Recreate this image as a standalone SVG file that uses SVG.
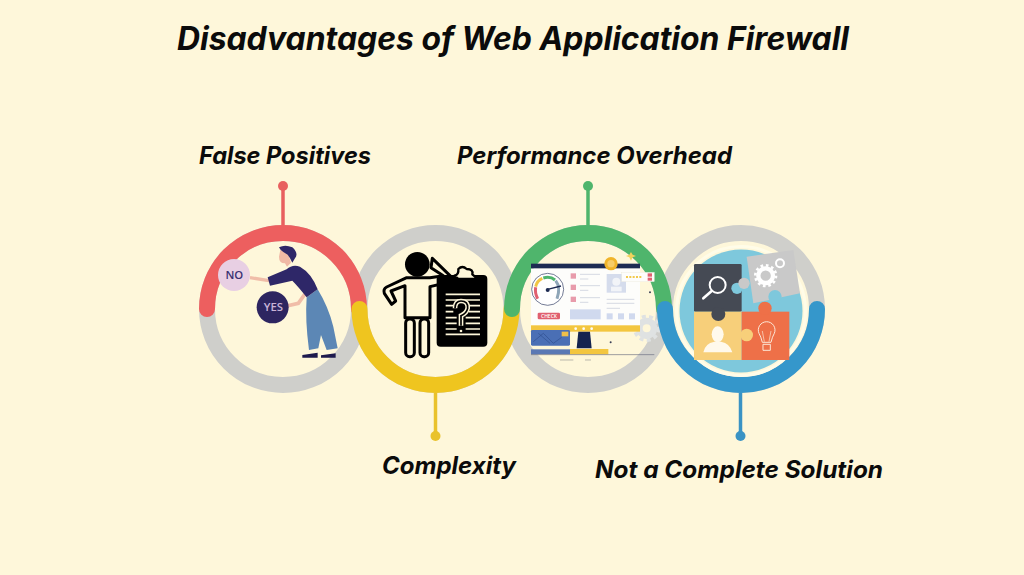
<svg xmlns="http://www.w3.org/2000/svg" width="1024" height="575" viewBox="0 0 1024 575">
<style>
.t{font-family:"Inter","Liberation Sans",sans-serif;font-weight:700;font-style:italic;fill:#0b0b0b}
.l{font-size:24px}
.s{font-family:"Open Sans","Liberation Sans",sans-serif;font-weight:600;text-anchor:middle}
.r{fill:none;stroke-width:16;stroke-linecap:round}
.g{fill:none;stroke:#cfcfcb;stroke-width:16}
.o{fill:#fef7da;stroke:#000;stroke-width:9;stroke-linejoin:round}
.cl{stroke:#fef7da;stroke-width:5;fill:none}
.gl{stroke:#d5d9e2;stroke-width:3;fill:none}
</style>
<rect width="1024" height="575" fill="#fef7da"/>
<text class="t" x="177" y="50" font-size="32" textLength="672" lengthAdjust="spacingAndGlyphs">Disadvantages of Web Application Firewall</text>
<g id="connectors">
<g stroke-width="3.500"><path d="M283 187V226" stroke="#e8605f"/><path d="M435.500 392V436" stroke="#e9c22c"/><path d="M588 187V226" stroke="#4fb56c"/><path d="M740.500 392V436" stroke="#3a93c4"/></g>
<circle cx="283" cy="186" r="5" fill="#e8605f"/><circle cx="435.500" cy="436" r="5" fill="#e9c22c"/><circle cx="588" cy="186" r="5" fill="#4fb56c"/><circle cx="740.500" cy="436" r="5" fill="#3a93c4"/>
</g>
<text class="t l" x="199" y="164" textLength="172" lengthAdjust="spacingAndGlyphs">False Positives</text>
<text class="t l" x="457" y="164" textLength="275" lengthAdjust="spacingAndGlyphs">Performance Overhead</text>
<text class="t l" x="382" y="474" textLength="134" lengthAdjust="spacingAndGlyphs">Complexity</text>
<text class="t l" x="595" y="478" textLength="288" lengthAdjust="spacingAndGlyphs">Not a Complete Solution</text>
<g id="rings"><circle class="g" cx="283" cy="309" r="76"/><circle class="g" cx="435.500" cy="309" r="76"/><circle class="g" cx="588" cy="309" r="76"/><circle class="g" cx="741" cy="309" r="76"/></g>
<g id="arcs">
<path class="r" d="M207 309A76 76 0 0 1 359 309" stroke="#ed5f5f"/>
<path class="r" d="M359.500 309A76 76 0 0 0 511.500 309" stroke="#efc51f"/>
<path class="r" d="M512 309A76 76 0 0 1 664 309" stroke="#4fb56c"/>
</g>
<g id="node-false-positives" transform="translate(205 240) scale(.3333)">
<path d="M135 113L192 122" stroke="#f0bda8" stroke-width="10"/>
<path d="M245 198L280 190L305 155" fill="none" stroke="#f0bda8" stroke-width="11"/>
<circle cx="87" cy="105" r="48" fill="#e8cfe3"/>
<text class="s" x="88" y="117" font-size="34" fill="#3b3272">NO</text>
<circle cx="203" cy="202" r="48" fill="#2d2560"/>
<text class="s" x="205" y="213" font-size="34" fill="#c8b3d8">YES</text>
<path d="M226 30L250 42L258 68L246 80L240 70Q222 70 222 50Z" fill="#f0b9a5"/>
<path d="M222 22Q240 12 262 22Q282 40 270 55L262 68Q256 54 248 44L235 36Q225 30 222 22Z" fill="#2e2768"/>
<path d="M305 172L338 148Q370 200 385 260L398 325L365 330L348 285L340 325L312 330Q300 240 305 172Z" fill="#5c87b5"/>
<path d="M188 112L245 88Q262 72 285 80Q320 100 338 148L305 172Q280 140 262 122L195 137Z" fill="#2e2768"/>
<path d="M292 345L338 338V353H292ZM348 346L392 340V353H348Z" fill="#1e1a4d"/>
</g>
<g id="node-complexity" transform="translate(375 245) scale(.3333)">
<rect x="92" y="222" width="26" height="113" rx="12" class="o"/>
<rect x="135" y="222" width="26" height="113" rx="12" class="o"/>
<path class="o" d="M172 40L228 95Q232 108 222 112L165 125V218H90V122L48 138L62 168L50 178L28 145Q24 132 35 126L95 98H165L205 92L168 68Z"/>
<circle cx="127" cy="58" r="37"/>
<rect x="185" y="90" width="152" height="215" rx="12"/>
<path d="M238 92Q252 90 250 72Q262 60 275 72Q296 72 292 88L308 102H250Z" fill="#fef7da" stroke="#000" stroke-width="7" stroke-linejoin="round"/>
<path class="cl" d="M212 148H315M212 165H315M212 182H235M282 182H315M212 200H235M282 200H315M212 218H245M272 218H315M212 235H245M272 235H315M212 252H245M272 252H315M212 268H315"/>
<path d="M240 190Q240 168 258 168Q280 168 278 190Q275 205 258 212V242" fill="none" stroke="#fef7da" stroke-width="14"/>
<path d="M240 190Q240 168 258 168Q280 168 278 190Q275 205 258 212V242" fill="none" stroke="#000" stroke-width="5"/>
<circle cx="258" cy="258" r="4" fill="#fef7da"/>
</g>
<g id="node-performance" transform="translate(525 250) scale(.3333)">
<circle cx="365" cy="235" r="22" fill="none" stroke="#dfe2e2" stroke-width="20"/>
<circle cx="365" cy="235" r="36" fill="none" stroke="#dfe2e2" stroke-width="10" stroke-dasharray="12 10"/>
<rect x="18" y="55" width="327" height="172" fill="#fdfdfb"/>
<rect x="18" y="41" width="327" height="14" fill="#1d2b52"/>
<path d="M318 6L323 14L333 18L323 22L318 32L313 22L303 18L313 14Z" fill="#f2d25c"/>
<circle cx="258" cy="41" r="20" fill="#f0b429"/>
<circle cx="258" cy="41" r="11" fill="#f7cd67"/>
<circle cx="68" cy="118" r="48" fill="#fff" stroke="#2d3a60" stroke-width="2"/>
<g fill="none" stroke-width="9"><path d="M38 146Q29 130 32 112" stroke="#e0606f"/><path d="M32 110Q36 92 52 85" stroke="#f1c644"/><path d="M55 84Q76 78 90 90" stroke="#4fb56c"/><path d="M92 92Q108 112 96 146" stroke="#8fa6b8"/></g>
<path d="M68 118L108 108" stroke="#1d2b52" stroke-width="4"/>
<circle cx="68" cy="120" r="6" fill="#1d2b52"/>
<rect x="38" y="188" width="67" height="20" rx="4" fill="#e0606f"/>
<text class="s" x="72" y="203" font-size="15" fill="#fff">CHECK</text>
<g fill="#e89bab"><rect x="137" y="70" width="16" height="16"/><rect x="137" y="104" width="16" height="16"/><rect x="137" y="140" width="16" height="16"/></g>
<path class="gl" d="M165 73H225M165 87H190M165 107H225M165 121H190M165 143H225M165 157H190M245 148H328M245 160H328M245 175H285"/>
<rect x="245" y="72" width="58" height="56" fill="#d5dcec"/>
<circle cx="274" cy="95" r="12" fill="#f2f4f8"/>
<rect x="258" y="110" width="32" height="14" fill="#f2f4f8"/>
<g fill="#d0d9ee"><rect x="135" y="178" width="92" height="30"/><rect x="245" y="190" width="18" height="18"/><rect x="279" y="190" width="18" height="18"/><rect x="312" y="190" width="18" height="18"/></g>
<rect x="18" y="226" width="327" height="19" fill="#f3c63f"/>
<g fill="#fdfdfb"><circle cx="152" cy="236" r="4"/><circle cx="176" cy="236" r="4"/><circle cx="200" cy="236" r="4"/></g>
<path d="M160 245H195L200 295H155Z" fill="#14234f"/>
<rect x="18" y="240" width="117" height="47" rx="4" fill="#4a6fb5"/>
<path d="M25 275L55 250L85 280L110 262M40 250L75 280" fill="none" stroke="#2f4f90" stroke-width="2"/>
<rect x="110" y="245" width="20" height="14" fill="#efc04a"/>
<rect x="18" y="298" width="117" height="15" fill="#5a78b4"/>
<rect x="135" y="297" width="115" height="16" fill="#f3c63f"/>
<path d="M18 314H388" stroke="#6b6f80" stroke-width="2"/>
<path d="M105 330H145M180 330H198" stroke="#9a9a92" stroke-width="2"/>
<circle cx="375" cy="127" r="3" fill="#3a3f55"/><circle cx="257" cy="277" r="3" fill="#3a3f55"/>
<rect x="290" y="67" width="98" height="28" fill="#fdfdfb" stroke="#e9e6d5"/>
<path d="M303 81H352" stroke="#f2c94c" stroke-width="6" stroke-dasharray="6 4"/>
<rect x="368" y="70" width="13" height="10" fill="#e0606f"/><rect x="368" y="83" width="13" height="9" fill="#e0606f"/>
</g>
<g id="arc-blue"><path class="r" d="M665 309A76 76 0 0 0 817 309" stroke="#3597cb"/></g>
<g id="node-solution">
<circle cx="741" cy="311" r="64.500" fill="none" stroke="#fffce8" stroke-width="3"/>
<circle cx="741" cy="311" r="61.500" fill="#7ec8dc"/>
<g transform="translate(675 245) scale(.3333)">
<circle cx="186" cy="130" r="17" fill="#7ec8dc"/>
<path d="M215 35L355 15L375 145L235 175Z" fill="#c9c9c9"/>
<circle cx="300" cy="155" r="20" fill="#7ec8dc"/>
<rect x="57" y="57" width="143" height="143" rx="4" fill="#454a54"/>
<circle cx="186" cy="130" r="17" fill="#7ec8dc"/>
<circle cx="207" cy="115" r="17" fill="#c9c9c9"/>
<rect x="57" y="200" width="143" height="145" fill="#f7cf7a"/>
<rect x="200" y="200" width="143" height="145" fill="#ee7048"/>
<circle cx="215" cy="270" r="19" fill="#f7cf7a"/>
<circle cx="270" cy="190" r="20" fill="#ee7048"/>
<circle cx="130" cy="207" r="21" fill="#454a54"/>
<circle cx="272" cy="92" r="22" fill="none" stroke="#fff" stroke-width="13"/>
<circle cx="272" cy="92" r="31" fill="none" stroke="#fff" stroke-width="8" stroke-dasharray="8 8.200"/>
<circle cx="315" cy="55" r="12" fill="none" stroke="#fff" stroke-width="6"/>
<circle cx="128" cy="120" r="24" fill="none" stroke="#fff" stroke-width="6"/>
<path d="M110 138L85 160" stroke="#fff" stroke-width="8" stroke-linecap="round"/>
<ellipse cx="128" cy="268" rx="18" ry="24" fill="#fff9ec"/>
<path d="M85 322Q90 295 118 290H138Q165 295 172 322Z" fill="#fff9ec"/>
<path d="M262 292Q258 275 252 265A25 25 0 1 1 298 265Q292 275 288 292ZM264 298H286V316H264Z" fill="none" stroke="#fbe8d8" stroke-width="3"/>
<path d="M268 290L262 258M282 290L288 258" stroke="#fbe8d8" stroke-width="2"/>
</g>
</g>
</svg>
